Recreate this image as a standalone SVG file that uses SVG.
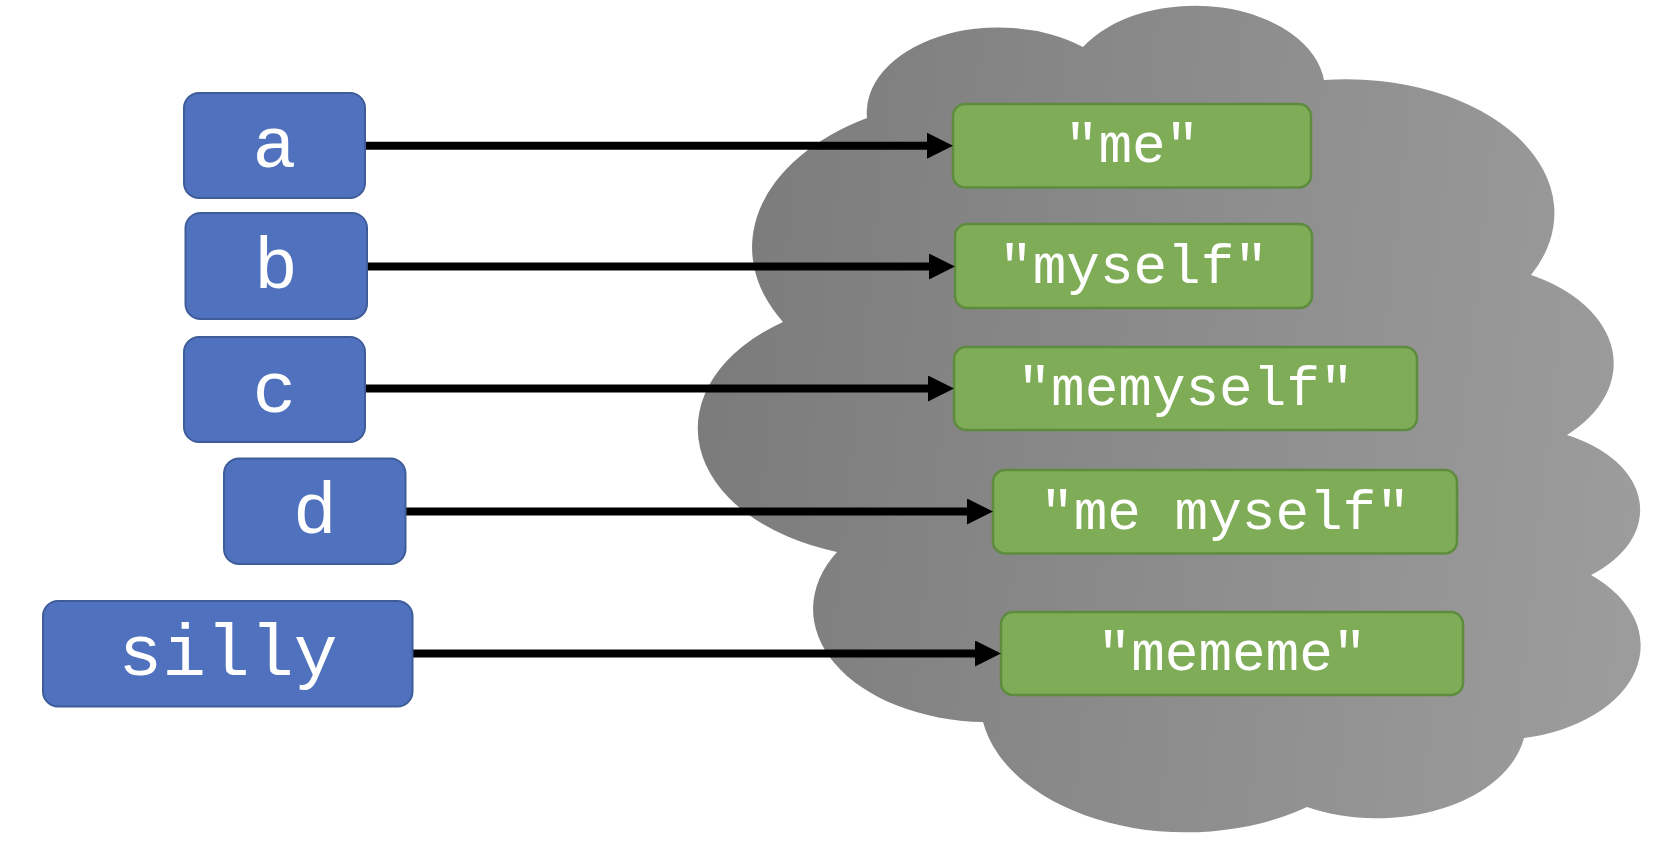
<svg xmlns="http://www.w3.org/2000/svg" width="1654" height="842" viewBox="0 0 1654 842">
  <defs>
    <linearGradient id="cloudGrad" gradientUnits="userSpaceOnUse" x1="697" y1="350" x2="1641" y2="450">
      <stop offset="0" stop-color="#7b7b7b"/>
      <stop offset="1" stop-color="#9c9c9c"/>
    </linearGradient>
    <marker id="arrow" markerUnits="userSpaceOnUse" markerWidth="26" markerHeight="26" refX="6" refY="13" orient="auto">
      <path d="M0,0 L26,13 L0,26 Z" fill="#000"/>
    </marker>
    <style>
      .var rect { fill: #5072BE; stroke: #3E5C99; stroke-width: 2; }
      .var text { font-family: "Courier New", "Liberation Mono", monospace; font-size: 73px; fill: #ffffff; text-anchor: middle; }
      .val rect { fill: #7FAC56; stroke: #5E8C3E; stroke-width: 2.5; }
      .val text { font-family: "Courier New", "Liberation Mono", monospace; font-size: 56px; fill: #ffffff; text-anchor: middle; }
      .conn line { stroke: #000000; stroke-width: 8; marker-end: url(#arrow); }
    </style>
  </defs>

  <rect width="1654" height="842" fill="#ffffff"/>

  <g id="cloud">
    <path fill="url(#cloudGrad)" d="M 867 118
      A 132 85 0 0 1 1083 47
      A 130 84 0 0 1 1324 80
      A 208 134 0 0 1 1531 275
      A 155 100 0 0 1 1567 435
      A 129 83 0 0 1 1591 575
      A 145 94 0 0 1 1524 738
      A 149 96 0 0 1 1307 807
      A 206 133 0 0 1 983 722
      A 175 113 0 0 1 837 552
      A 201 130 0 0 1 783 322
      A 233 150 0 0 1 867 118 Z"/>
  </g>

  <g id="val-me" class="val">
    <rect x="953" y="104" width="358" height="83.5" rx="12"/>
    <text x="1132" y="162">"me"</text>
  </g>
  <g id="val-myself" class="val">
    <rect x="955" y="224" width="357" height="84" rx="12"/>
    <text x="1133.5" y="282.5">"myself"</text>
  </g>
  <g id="val-memyself" class="val">
    <rect x="954" y="347" width="463" height="83" rx="12"/>
    <text x="1185.5" y="405">"memyself"</text>
  </g>
  <g id="val-me-myself" class="val">
    <rect x="993" y="470" width="464" height="83.5" rx="12"/>
    <text x="1225" y="528.5">"me myself"</text>
  </g>
  <g id="val-mememe" class="val">
    <rect x="1001" y="612" width="462" height="83" rx="12"/>
    <text x="1232" y="670">"mememe"</text>
  </g>

  <g id="connectors" class="conn">
    <line x1="365" y1="145.7" x2="933" y2="145.7"/>
    <line x1="367" y1="266.5" x2="935" y2="266.5"/>
    <line x1="365" y1="388.5" x2="934" y2="388.5"/>
    <line x1="405.5" y1="511.5" x2="973" y2="511.5"/>
    <line x1="412.5" y1="653.5" x2="981" y2="653.5"/>
  </g>

  <g id="var-a" class="var">
    <rect x="184" y="93" width="181" height="105" rx="15"/>
    <text x="274.5" y="167">a</text>
  </g>
  <g id="var-b" class="var">
    <rect x="185.5" y="213" width="181.5" height="106" rx="15"/>
    <text x="276" y="288">b</text>
  </g>
  <g id="var-c" class="var">
    <rect x="184" y="337" width="181" height="105" rx="15"/>
    <text x="274.5" y="411.5">c</text>
  </g>
  <g id="var-d" class="var">
    <rect x="224" y="458.5" width="181.5" height="105.5" rx="15"/>
    <text x="315" y="533">d</text>
  </g>
  <g id="var-silly" class="var">
    <rect x="43" y="601" width="369.5" height="105.5" rx="15"/>
    <text x="228" y="675">silly</text>
  </g>
</svg>
